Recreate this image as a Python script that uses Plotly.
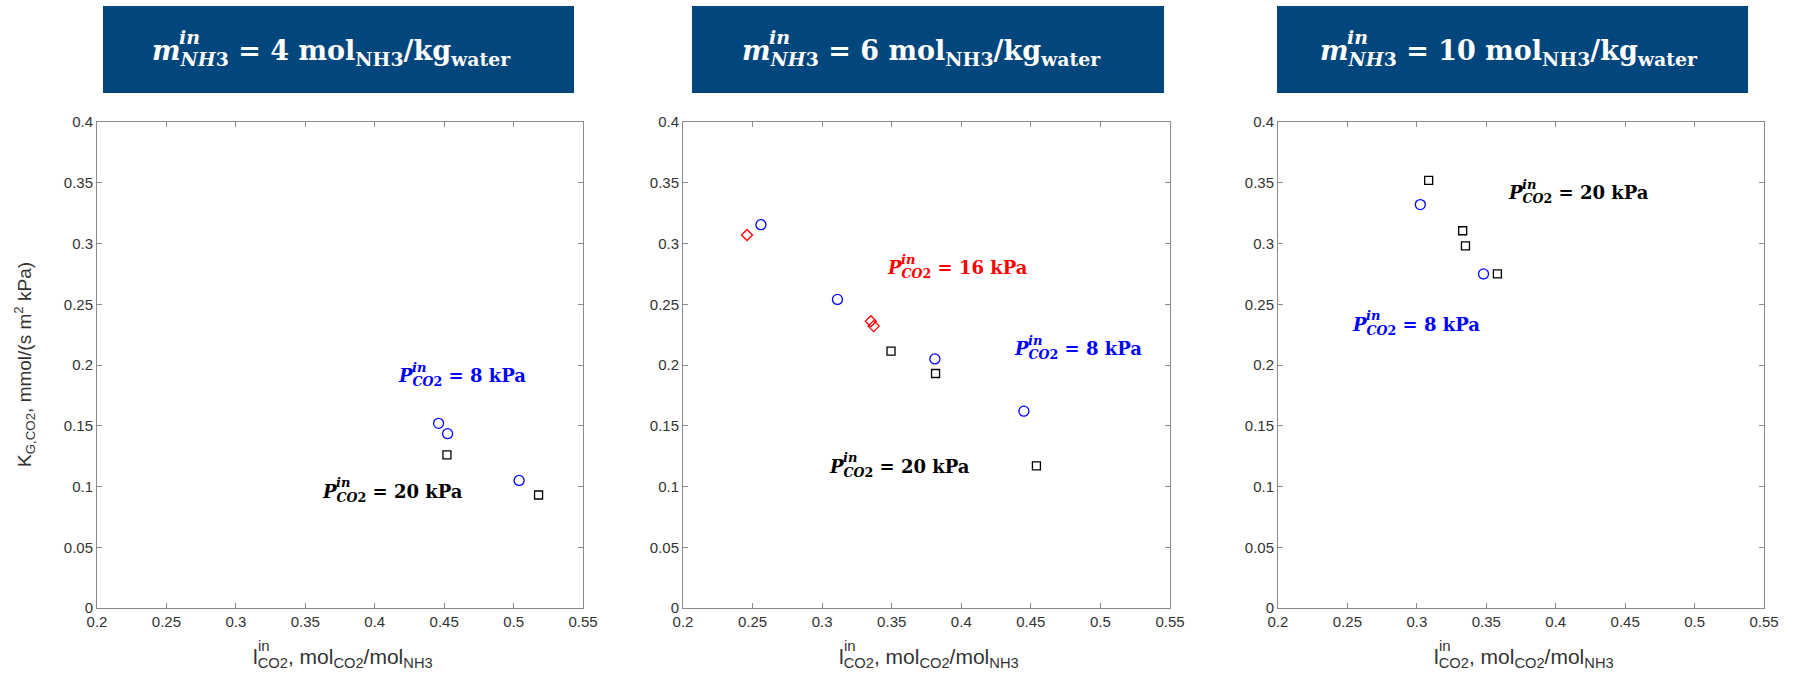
import plotly.graph_objects as go

# ---- data: K_G,CO2 vs CO2 loading, three NH3 concentrations ----
m_nh3 = [4, 6, 10]

# m = 4 mol/kg
m4_p8_x = [0.446, 0.4525, 0.504]
m4_p8_y = [0.152, 0.1435, 0.105]
m4_p20_x = [0.452, 0.518]
m4_p20_y = [0.126, 0.093]

# m = 6 mol/kg
m6_p8_x = [0.256, 0.311, 0.381, 0.445]
m6_p8_y = [0.3155, 0.254, 0.205, 0.162]
m6_p16_x = [0.246, 0.335, 0.337]
m6_p16_y = [0.307, 0.236, 0.232]
m6_p20_x = [0.3495, 0.3815, 0.454]
m6_p20_y = [0.2115, 0.193, 0.117]

# m = 10 mol/kg
m10_p8_x = [0.3025, 0.348]
m10_p8_y = [0.332, 0.275]
m10_p20_x = [0.3085, 0.333, 0.335, 0.358]
m10_p20_y = [0.352, 0.3105, 0.298, 0.275]

x_ticks = [0.2, 0.25, 0.3, 0.35, 0.4, 0.45, 0.5, 0.55]
y_ticks = [0, 0.05, 0.1, 0.15, 0.2, 0.25, 0.3, 0.35, 0.4]
x_ticktext = ["0.2", "0.25", "0.3", "0.35", "0.4", "0.45", "0.5", "0.55"]
y_ticktext = ["0", "0.05", "0.1", "0.15", "0.2", "0.25", "0.3", "0.35", "0.4"]

W, H = 1797, 685
BLUE, RED, BLACK = "#0000ff", "#ff0000", "#000000"
BOX = "#01467c"


def px(x):
    return x / W


def py(y):
    return 1 - y / H


# panel frames in pixels
panels_x = [(97, 583), (683, 1170), (1278, 1764)]
panel_top, panel_bot = 122, 608
title_boxes = [(103, 574, 150), (692, 1164, 740), (1277, 1748, 1318)]

fig = go.Figure()

series = [
    (1, m4_p8_x, m4_p8_y, "circle-open", BLUE, 10),
    (1, m4_p20_x, m4_p20_y, "square-open", BLACK, 8),
    (2, m6_p8_x, m6_p8_y, "circle-open", BLUE, 10),
    (2, m6_p16_x, m6_p16_y, "diamond-open", RED, 8.5),
    (2, m6_p20_x, m6_p20_y, "square-open", BLACK, 8),
    (3, m10_p8_x, m10_p8_y, "circle-open", BLUE, 10),
    (3, m10_p20_x, m10_p20_y, "square-open", BLACK, 8),
]
for k, xs, ys, sym, col, size in series:
    sfx = "" if k == 1 else str(k)
    fig.add_trace(go.Scatter(
        x=xs, y=ys, mode="markers", xaxis="x" + sfx, yaxis="y" + sfx,
        marker=dict(symbol=sym, size=size, color=col, line=dict(color=col, width=1.3)),
        showlegend=False, hoverinfo="x+y",
    ))

axis_common = dict(
    showline=True, linecolor="#8a8a8a", linewidth=1, mirror="ticks",
    ticks="inside", ticklen=5, tickcolor="#8a8a8a", tickwidth=1,
    showgrid=False, zeroline=False, automargin=False,
    tickfont=dict(family="Arial, Liberation Sans", size=15, color="#333333"),
)

layout = dict(
    width=W, height=H, margin=dict(l=0, r=0, t=0, b=0),
    paper_bgcolor="white", plot_bgcolor="white",
)
for i, (x0, x1) in enumerate(panels_x):
    sfx = "" if i == 0 else str(i + 1)
    layout["xaxis" + sfx] = dict(
        axis_common, domain=[px(x0), px(x1)], range=[0.2, 0.55],
        tickvals=x_ticks, ticktext=x_ticktext, anchor="y" + sfx,
    )
    layout["yaxis" + sfx] = dict(
        axis_common, domain=[py(panel_bot), py(panel_top)], range=[0, 0.4],
        tickvals=y_ticks, ticktext=y_ticktext, anchor="x" + sfx,
    )
fig.update_layout(**layout)

shapes = []
annotations = []
SERIF = "DejaVu Serif, Liberation Serif, serif"
SANS = "Arial, Liberation Sans"

# header boxes with the NH3 concentration
for (bx0, bx1, tx), m in zip(title_boxes, m_nh3):
    shapes.append(dict(type="rect", xref="paper", yref="paper",
                       x0=px(bx0), x1=px(bx1), y0=py(93), y1=py(6),
                       fillcolor=BOX, line=dict(width=0), layer="below"))
    annotations.append(dict(
        xref="paper", yref="paper", x=px(tx), y=py(52), xanchor="left", yanchor="middle",
        text=f"<b><i>m</i><sub><i>NH</i>3</sub> = {m} mol<sub>NH3</sub>/kg<sub>water</sub></b>",
        showarrow=False, font=dict(family=SERIF, size=27, color="white"),
    ))
    annotations.append(dict(
        xref="paper", yref="paper", x=px(tx), y=py(52), xanchor="left", yanchor="middle",
        xshift=27, yshift=15, text="<b><i>in</i></b>",
        showarrow=False, font=dict(family=SERIF, size=19, color="white"),
    ))

# axis titles
for (x0, x1) in panels_x:
    annotations.append(dict(
        xref="paper", yref="paper", x=px(x0 + 154), y=py(658), xanchor="left", yanchor="middle",
        text="l<sub>CO2</sub>, mol<sub>CO2</sub>/mol<sub>NH3</sub>",
        showarrow=False, font=dict(family=SANS, size=21, color="#333333"),
    ))
    annotations.append(dict(
        xref="paper", yref="paper", x=px(x0 + 154), y=py(658), xanchor="left", yanchor="middle",
        xshift=5, yshift=13, text="in",
        showarrow=False, font=dict(family=SANS, size=15, color="#333333"),
    ))
annotations.append(dict(
    xref="paper", yref="paper", x=px(24), y=py(365), xanchor="center", yanchor="middle",
    textangle=-90, text="K<sub>G,CO2</sub>, mmol/(s m<sup>2</sup> kPa)",
    showarrow=False, font=dict(family=SANS, size=19, color="#333333"),
))

# inlet CO2 partial-pressure labels (panel, x, y, kPa, colour)
pressure_labels = [
    (1, 0.4155, 0.190, 8, BLUE),
    (1, 0.3606, 0.095, 20, BLACK),
    (2, 0.3452, 0.279, 16, RED),
    (2, 0.4363, 0.212, 8, BLUE),
    (2, 0.3037, 0.1155, 20, BLACK),
    (3, 0.3642, 0.3406, 20, BLACK),
    (3, 0.2520, 0.2322, 8, BLUE),
]
for k, lx, ly, kpa, col in pressure_labels:
    sfx = "" if k == 1 else str(k)
    annotations.append(dict(
        xref="x" + sfx, yref="y" + sfx, x=lx, y=ly, xanchor="left", yanchor="middle",
        text=f"<b><i>P</i><sub><i>CO</i>2</sub> = {kpa} kPa</b>",
        showarrow=False, font=dict(family=SERIF, size=18, color=col),
    ))
    annotations.append(dict(
        xref="x" + sfx, yref="y" + sfx, x=lx, y=ly, xanchor="left", yanchor="middle",
        xshift=14, yshift=10, text="<b><i>in</i></b>",
        showarrow=False, font=dict(family=SERIF, size=13, color=col),
    ))

fig.update_layout(shapes=shapes, annotations=annotations)
fig.write_html("out.html")
